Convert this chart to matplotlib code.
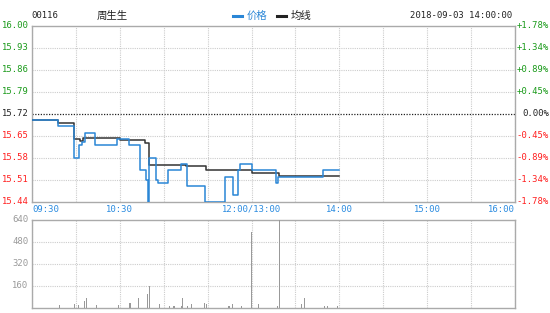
import matplotlib

matplotlib.use("Agg")
import matplotlib.pyplot as plt
from matplotlib.transforms import blended_transform_factory

# minutes since 09:30, lunch break removed (12:00 and 13:00 both sit at 150)
price_minutes = [0, 18, 29, 32, 34, 36, 43, 58, 66, 74, 78, 79, 80, 85, 86, 93, 102, 106,
                 118, 132, 137, 141, 142, 150, 167, 168, 199, 210]
price_values = [15.70, 15.68, 15.58, 15.62, 15.63, 15.66, 15.62, 15.64, 15.62, 15.54, 15.51,
                15.44, 15.58, 15.51, 15.50, 15.54, 15.56, 15.49, 15.44, 15.52, 15.46, 15.54,
                15.56, 15.54, 15.50, 15.52, 15.54, 15.54]

avg_minutes = [0, 18, 29, 33, 35, 60, 77, 80, 105, 119, 150, 169, 210]
avg_values = [15.700, 15.690, 15.640, 15.632, 15.643, 15.636, 15.627, 15.558, 15.555,
              15.542, 15.530, 15.521, 15.521]

vol_minutes = [19, 29, 32, 36, 37, 44, 59, 67, 73, 79, 80, 87, 94, 97, 102, 103, 106, 109,
               118, 119, 134, 135, 137, 143, 150, 155, 168, 169, 184, 186, 200, 202, 209]
vol_values = [17, 27, 17, 48, 73, 17, 17, 34, 68, 99, 158, 25, 12, 12, 12, 71, 12, 25,
              32, 22, 12, 12, 25, 12, 551, 25, 12, 700, 25, 66, 12, 12, 12]

price_ticks = [16.00, 15.93, 15.86, 15.79, 15.72, 15.65, 15.58, 15.51, 15.44]
pct_labels = ["+1.78%", "+1.34%", "+0.89%", "+0.45%", "0.00%", "-0.45%", "-0.89%", "-1.34%", "-1.78%"]
vol_ticks = [160, 320, 480, 640]
time_ticks = [0, 60, 150, 210, 270, 330]
time_labels = ["09:30", "10:30", "12:00/13:00", "14:00", "15:00", "16:00"]

PREV_CLOSE = 15.72
MONO = "DejaVu Sans Mono"
CJK = ["Noto Sans CJK SC", "DejaVu Sans"]
GREEN = "#1a9a1a"
RED = "#ff2020"
BLUE = "#2a86d6"
GRID = "#cccccc"

fig = plt.figure(figsize=(5.5, 3.13), dpi=100)
fig.patch.set_facecolor("white")
left, width = 32 / 550, 483 / 550
ax = fig.add_axes([left, 1 - 201.7 / 313, width, 175.7 / 313])
vax = fig.add_axes([left, 1 - 307.5 / 313, width, 87.5 / 313])

for axis in (ax, vax):
    axis.set_xlim(0, 330)
    axis.set_xticks(range(0, 331, 30))
    axis.tick_params(length=0, labelbottom=False, labelleft=False)
    axis.grid(axis="x", color=GRID, linestyle=(0, (1, 1)), linewidth=0.8)
    for spine in axis.spines.values():
        spine.set_color("#aaaaaa")
        spine.set_linewidth(1)

# price panel
ax.set_ylim(15.44, 16.00)
ax.set_yticks(price_ticks)
for value in price_ticks[1:-1]:
    if abs(value - PREV_CLOSE) < 1e-6:
        ax.axhline(value, color="#222222", linestyle=(0, (1, 1.2)), linewidth=0.9, zorder=1)
    else:
        ax.axhline(value, color=GRID, linestyle=(0, (1, 1)), linewidth=0.8, zorder=1)

ax.plot(avg_minutes, avg_values, drawstyle="steps-post", color="#333333", linewidth=1.1, zorder=3)
ax.plot(price_minutes, price_values, drawstyle="steps-post", color=BLUE, linewidth=1.1, zorder=4)

trans = blended_transform_factory(fig.transFigure, ax.transData)
for value, pct in zip(price_ticks, pct_labels):
    if value > PREV_CLOSE + 1e-6:
        color = GREEN
    elif value < PREV_CLOSE - 1e-6:
        color = RED
    else:
        color = "#222222"
    fig.text(28.5 / 550, value, f"{value:.2f}", transform=trans, ha="right", va="center",
             fontsize=6.4, family=MONO, color=color)
    fig.text(549 / 550, value, pct, transform=trans, ha="right", va="center",
             fontsize=6.4, family=MONO, color=color)

ty = 1 - 209.5 / 313
for minute, label in zip(time_ticks, time_labels):
    ha = "left" if minute == 0 else ("right" if minute == 330 else "center")
    ax.text(minute, ty, label, transform=blended_transform_factory(ax.transData, fig.transFigure),
            ha=ha, va="center", fontsize=6.4, family=MONO, color="#2a8be0")

# volume panel
vax.set_ylim(0, 640)
vax.set_yticks(vol_ticks)
for value in vol_ticks[:-1]:
    vax.axhline(value, color=GRID, linestyle=(0, (1, 1)), linewidth=0.8, zorder=1)
vax.bar(vol_minutes, vol_values, width=0.8, color="#999999", zorder=3)
vtrans = blended_transform_factory(fig.transFigure, vax.transData)
for value in vol_ticks:
    fig.text(28.5 / 550, value, str(value), transform=vtrans, ha="right", va="center",
             fontsize=6.4, family=MONO, color="#999999")

# header
hy = 1 - 16 / 313
fig.text(31 / 550, hy, "00116", ha="left", va="center", fontsize=6.4, family=MONO, color="#222222")
fig.text(97 / 550, hy, "周生生", ha="left", va="center", fontsize=7.5, family=CJK, color="#222222")
fig.lines.append(plt.Line2D([233 / 550, 242 / 550], [hy, hy], transform=fig.transFigure,
                            color=BLUE, linewidth=2.2))
fig.text(247 / 550, hy, "价格", ha="left", va="center", fontsize=7.5, family=CJK, color=BLUE)
fig.lines.append(plt.Line2D([277 / 550, 286 / 550], [hy, hy], transform=fig.transFigure,
                            color="#222222", linewidth=2.2))
fig.text(291 / 550, hy, "均线", ha="left", va="center", fontsize=7.5, family=CJK, color="#222222")
fig.text(512 / 550, hy, "2018-09-03 14:00:00", ha="right", va="center", fontsize=6.4,
         family=MONO, color="#222222")

fig.savefig("out.png", dpi=100, facecolor="white")
